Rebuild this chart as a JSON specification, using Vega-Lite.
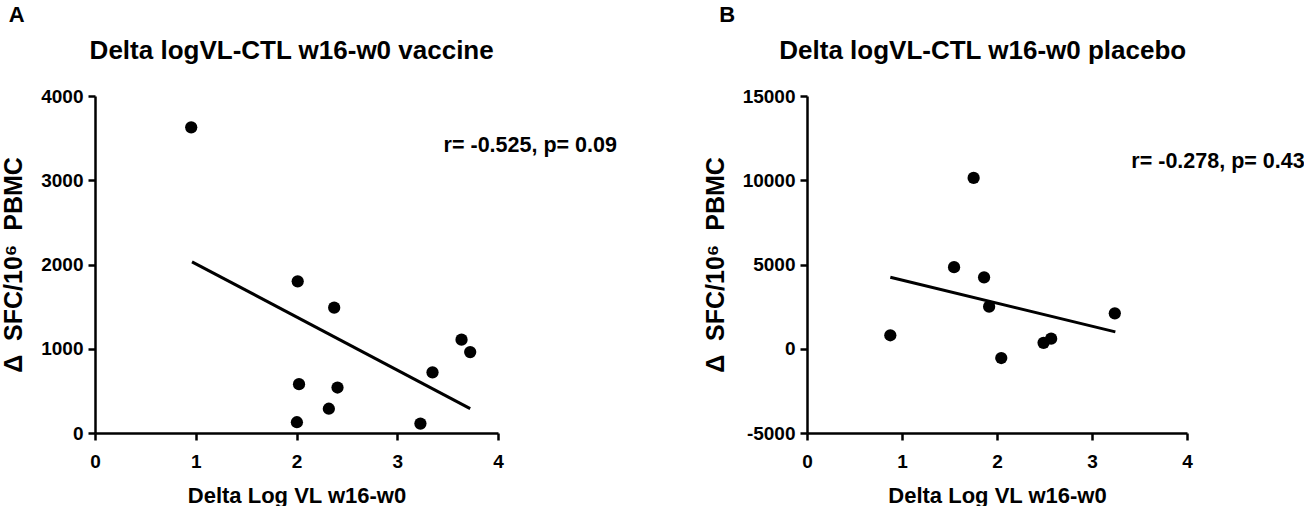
{
  "$schema": "https://vega.github.io/schema/vega-lite/v6.json",
  "description": "Delta logVL vs delta CTL response, vaccine and placebo arms",
  "background": "white",
  "padding": {"left": 1, "top": 4, "right": 0, "bottom": 0},
  "datasets": {
    "vaccine_points": [
      {"logvl": 0.955, "sfc": 3628},
      {"logvl": 2.012, "sfc": 1800},
      {"logvl": 2.374, "sfc": 1488},
      {"logvl": 3.638, "sfc": 1108},
      {"logvl": 3.724, "sfc": 960},
      {"logvl": 3.35, "sfc": 720},
      {"logvl": 2.025, "sfc": 580},
      {"logvl": 2.407, "sfc": 540},
      {"logvl": 2.321, "sfc": 288},
      {"logvl": 2.004, "sfc": 128},
      {"logvl": 3.23, "sfc": 112}
    ],
    "vaccine_fit": [
      {"logvl": 0.963, "sfc": 2032},
      {"logvl": 3.724, "sfc": 290}
    ],
    "vaccine_note": [
      {"logvl": 3.46, "sfc": 3412, "label": "r= -0.525, p= 0.09"}
    ],
    "vaccine_head": [
      {"logvl": 1.952, "sfc": 4440, "label": "Delta logVL-CTL w16-w0 vaccine"}
    ],
    "vaccine_tag": [
      {"logvl": -0.857, "sfc": 4878, "label": "A"}
    ],
    "placebo_points": [
      {"logvl": 0.877, "sfc": 800},
      {"logvl": 1.548, "sfc": 4840},
      {"logvl": 1.754, "sfc": 10140},
      {"logvl": 1.864, "sfc": 4240},
      {"logvl": 1.917, "sfc": 2500},
      {"logvl": 2.045, "sfc": -550},
      {"logvl": 2.49, "sfc": 350},
      {"logvl": 2.57, "sfc": 600},
      {"logvl": 3.24, "sfc": 2100}
    ],
    "placebo_fit": [
      {"logvl": 0.877, "sfc": 4240},
      {"logvl": 3.246, "sfc": 1000}
    ],
    "placebo_note": [
      {"logvl": 3.414, "sfc": 11088, "label": "r= -0.278, p= 0.43"}
    ],
    "placebo_head": [
      {"logvl": 1.85, "sfc": 17196, "label": "Delta logVL-CTL w16-w0 placebo"}
    ],
    "placebo_tag": [
      {"logvl": -0.923, "sfc": 19388, "label": "B"}
    ]
  },
  "config": {
    "font": "Liberation Sans",
    "view": {"stroke": null},
    "concat": {"spacing": 309},
    "axis": {
      "grid": false,
      "domainColor": "black",
      "domainWidth": 2.5,
      "tickColor": "black",
      "tickWidth": 2.5,
      "tickSize": 7,
      "labelFont": "Liberation Sans",
      "labelFontWeight": "bold",
      "labelFontSize": 19,
      "labelColor": "black",
      "labelFlush": false,
      "labelOverlap": false,
      "titleFont": "Liberation Sans",
      "titleFontWeight": "bold",
      "titleFontSize": 22,
      "titleColor": "black"
    },
    "axisX": {"labelPadding": 12, "titlePadding": 14},
    "axisY": {"labelPadding": 5, "titlePadding": 14, "titleFontSize": 25}
  },
  "bounds": "flush",
  "hconcat": [
    {
      "width": 403,
      "height": 337,
      "encoding": {
        "x": {
          "field": "logvl",
          "type": "quantitative",
          "scale": {"domain": [0, 4], "nice": false, "zero": false},
          "axis": {"values": [0, 1, 2, 3, 4], "title": "Delta Log VL w16-w0"}
        },
        "y": {
          "field": "sfc",
          "type": "quantitative",
          "scale": {"domain": [0, 4000], "nice": false},
          "axis": {"values": [0, 1000, 2000, 3000, 4000], "labelExpr": "'' + datum.value", "title": "Δ\u00a0\u00a0SFC/10⁶\u00a0\u00a0PBMC"}
        }
      },
      "layer": [
        {
          "data": {"name": "vaccine_points"},
          "mark": {"type": "circle", "size": 150, "opacity": 1, "color": "black"}
        },
        {
          "data": {"name": "vaccine_fit"},
          "mark": {"type": "line", "color": "black", "strokeWidth": 3}
        },
        {
          "data": {"name": "vaccine_note"},
          "mark": {"type": "text", "align": "left", "baseline": "middle", "fontSize": 21.5, "fontWeight": "bold", "color": "black"},
          "encoding": {"text": {"field": "label"}}
        },
        {
          "data": {"name": "vaccine_head"},
          "mark": {"type": "text", "align": "center", "baseline": "alphabetic", "fontSize": 26, "fontWeight": "bold", "color": "black"},
          "encoding": {"text": {"field": "label"}}
        },
        {
          "data": {"name": "vaccine_tag"},
          "mark": {"type": "text", "align": "left", "baseline": "alphabetic", "fontSize": 22, "fontWeight": "bold", "color": "black"},
          "encoding": {"text": {"field": "label"}}
        }
      ]
    },
    {
      "width": 380,
      "height": 337,
      "encoding": {
        "x": {
          "field": "logvl",
          "type": "quantitative",
          "scale": {"domain": [0, 4], "nice": false, "zero": false},
          "axis": {"values": [0, 1, 2, 3, 4], "title": "Delta Log VL w16-w0"}
        },
        "y": {
          "field": "sfc",
          "type": "quantitative",
          "scale": {"domain": [-5000, 15000], "nice": false},
          "axis": {"values": [-5000, 0, 5000, 10000, 15000], "labelExpr": "'' + datum.value", "title": "Δ\u00a0\u00a0SFC/10⁶\u00a0\u00a0PBMC"}
        }
      },
      "layer": [
        {
          "data": {"name": "placebo_points"},
          "mark": {"type": "circle", "size": 150, "opacity": 1, "color": "black"}
        },
        {
          "data": {"name": "placebo_fit"},
          "mark": {"type": "line", "color": "black", "strokeWidth": 3}
        },
        {
          "data": {"name": "placebo_note"},
          "mark": {"type": "text", "align": "left", "baseline": "middle", "fontSize": 21.5, "fontWeight": "bold", "color": "black"},
          "encoding": {"text": {"field": "label"}}
        },
        {
          "data": {"name": "placebo_head"},
          "mark": {"type": "text", "align": "center", "baseline": "alphabetic", "fontSize": 26, "fontWeight": "bold", "color": "black"},
          "encoding": {"text": {"field": "label"}}
        },
        {
          "data": {"name": "placebo_tag"},
          "mark": {"type": "text", "align": "left", "baseline": "alphabetic", "fontSize": 22, "fontWeight": "bold", "color": "black"},
          "encoding": {"text": {"field": "label"}}
        }
      ]
    }
  ]
}
